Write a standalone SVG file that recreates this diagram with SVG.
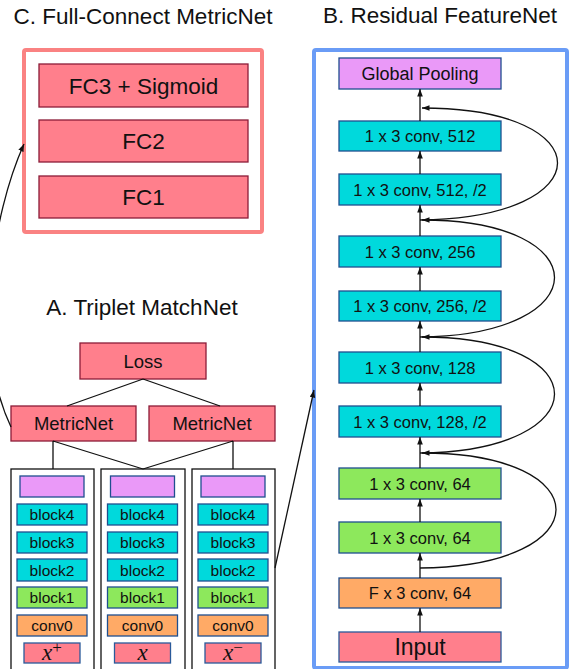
<svg xmlns="http://www.w3.org/2000/svg" width="569" height="669" viewBox="0 0 569 669">
<defs>
<marker id="ah" markerUnits="userSpaceOnUse" markerWidth="8" markerHeight="6" refX="7.5" refY="2.8" orient="auto">
<path d="M0,0 L7.5,2.8 L0,5.6 z" fill="#111"/>
</marker>
</defs>
<style>
text{font-family:"Liberation Sans",Arial,sans-serif;fill:#111;text-anchor:middle}
.title{font-size:22.5px}
.pink{fill:#ff7f8c;stroke:#8c1c38;stroke-width:1.3}
.pinkb{fill:#ff7f8c;stroke:#2a5a9a;stroke-width:1.3}
.cyan{fill:#00d9dc;stroke:#1f4f8f;stroke-width:1.3}
.green{fill:#8de85c;stroke:#1f4f8f;stroke-width:1.3}
.orange{fill:#ffaa66;stroke:#1f4f8f;stroke-width:1.3}
.violet{fill:#ea99f8;stroke:#1f4f8f;stroke-width:1.3}
.col{fill:#fff;stroke:#111;stroke-width:1.3}
.lbl{font-size:16.5px}
.blk{font-size:15.5px}
.big{font-size:22.5px}
.inp{font-size:23px}
.mid{font-size:18.5px}
.gp{font-size:18px}
.math{font-family:"Liberation Serif","Times New Roman",serif;font-style:italic;font-size:23px}
.sup{font-style:normal;font-size:17px}
.ln{stroke:#111;stroke-width:1.3;fill:none}
.ar{stroke:#111;stroke-width:1.3;fill:none;marker-end:url(#ah)}
</style>

<!-- Titles -->
<text class="title" x="143" y="24">C. Full-Connect MetricNet</text>
<text class="title" x="440" y="23">B. Residual FeatureNet</text>
<text class="title" x="142" y="315">A. Triplet MatchNet</text>

<!-- Panel C -->
<g id="panelC">
<rect x="24" y="50" width="238" height="182" rx="2" fill="#fff" stroke="#fa8282" stroke-width="4"/>
</g>
<g id="fc3"><rect class="pink" x="39" y="64" width="209" height="43"/><text class="big" x="143.5" y="93.5">FC3 + Sigmoid</text></g>
<g id="fc2"><rect class="pink" x="39" y="120" width="209" height="42"/><text class="big" x="143.5" y="149">FC2</text></g>
<g id="fc1"><rect class="pink" x="39" y="176" width="209" height="42"/><text class="big" x="143.5" y="205">FC1</text></g>

<!-- Panel B -->
<g id="panelB">
<rect x="314" y="50" width="253" height="618" rx="2" fill="#fff" stroke="#6a9cf6" stroke-width="4"/>
</g>
<g id="gpool"><rect class="violet" x="339" y="58" width="162" height="31"/><text class="gp" x="420" y="80">Global Pooling</text></g>
<g id="c512"><rect class="cyan" x="339" y="121" width="162" height="30"/><text class="lbl" x="420" y="142">1 x 3 conv, 512</text></g>
<g id="c512s"><rect class="cyan" x="339" y="174" width="162" height="31"/><text class="lbl" x="420" y="195.5">1 x 3 conv, 512, /2</text></g>
<g id="c256"><rect class="cyan" x="339" y="236" width="162" height="31"/><text class="lbl" x="420" y="257.5">1 x 3 conv, 256</text></g>
<g id="c256s"><rect class="cyan" x="339" y="291" width="162" height="30"/><text class="lbl" x="420" y="312">1 x 3 conv, 256, /2</text></g>
<g id="c128"><rect class="cyan" x="339" y="352" width="162" height="31"/><text class="lbl" x="420" y="373.5">1 x 3 conv, 128</text></g>
<g id="c128s"><rect class="cyan" x="339" y="406" width="162" height="31"/><text class="lbl" x="420" y="427.5">1 x 3 conv, 128, /2</text></g>
<g id="c64a"><rect class="green" x="339" y="468" width="162" height="31"/><text class="lbl" x="420" y="489.5">1 x 3 conv, 64</text></g>
<g id="c64b"><rect class="green" x="339" y="522" width="162" height="31"/><text class="lbl" x="420" y="543.5">1 x 3 conv, 64</text></g>
<g id="fconv"><rect class="orange" x="339" y="578" width="162" height="30"/><text class="lbl" x="420" y="599">F x 3 conv, 64</text></g>
<g id="input"><rect class="pinkb" x="339" y="632" width="162" height="30"/><text class="inp" x="420" y="655">Input</text></g>

<!-- Panel A -->
<g id="loss"><rect class="pink" x="80" y="343" width="126" height="36"/><text class="mid" x="143" y="367.5">Loss</text></g>
<g id="metricL"><rect class="pink" x="11" y="406" width="125" height="35"/><text class="mid" x="73.5" y="430">MetricNet</text></g>
<g id="metricR"><rect class="pink" x="149" y="406" width="126" height="35"/><text class="mid" x="212" y="430">MetricNet</text></g>

<g id="col1">
<rect class="col" x="11" y="469" width="83" height="210"/>
<rect class="violet" x="20" y="476" width="64" height="21"/>
<rect class="cyan" x="17" y="504" width="70" height="21"/><text class="blk" x="52" y="520">block4</text>
<rect class="cyan" x="17" y="532" width="70" height="21"/><text class="blk" x="52" y="548">block3</text>
<rect class="cyan" x="17" y="559" width="70" height="22"/><text class="blk" x="52" y="575.5">block2</text>
<rect class="green" x="17" y="587" width="70" height="21"/><text class="blk" x="52" y="603">block1</text>
<rect class="orange" x="17" y="615" width="70" height="21"/><text class="blk" x="52" y="631">conv0</text>
<rect class="pinkb" x="24" y="643" width="56" height="20"/><text class="math" x="52" y="660">x<tspan class="sup" dy="-7">+</tspan></text>
</g>
<g id="col2">
<rect class="col" x="101" y="469" width="84" height="210"/>
<rect class="violet" x="110.5" y="476" width="64" height="21"/>
<rect class="cyan" x="107.5" y="504" width="70" height="21"/><text class="blk" x="142.5" y="520">block4</text>
<rect class="cyan" x="107.5" y="532" width="70" height="21"/><text class="blk" x="142.5" y="548">block3</text>
<rect class="cyan" x="107.5" y="559" width="70" height="22"/><text class="blk" x="142.5" y="575.5">block2</text>
<rect class="green" x="107.5" y="587" width="70" height="21"/><text class="blk" x="142.5" y="603">block1</text>
<rect class="orange" x="107.5" y="615" width="70" height="21"/><text class="blk" x="142.5" y="631">conv0</text>
<rect class="pinkb" x="114.5" y="643" width="56" height="20"/><text class="math" x="142.5" y="660">x</text>
</g>
<g id="col3">
<rect class="col" x="192" y="469" width="83" height="210"/>
<rect class="violet" x="201" y="476" width="64" height="21"/>
<rect class="cyan" x="198" y="504" width="70" height="21"/><text class="blk" x="233" y="520">block4</text>
<rect class="cyan" x="198" y="532" width="70" height="21"/><text class="blk" x="233" y="548">block3</text>
<rect class="cyan" x="198" y="559" width="70" height="22"/><text class="blk" x="233" y="575.5">block2</text>
<rect class="green" x="198" y="587" width="70" height="21"/><text class="blk" x="233" y="603">block1</text>
<rect class="orange" x="198" y="615" width="70" height="21"/><text class="blk" x="233" y="631">conv0</text>
<rect class="pinkb" x="205" y="643" width="56" height="20"/><text class="math" x="233" y="660">x<tspan class="sup" dy="-7">−</tspan></text>
</g>

<!-- Connectors -->
<g id="connectors">
<path class="ln" d="M143,379 L67,406 M143,379 L220,406"/>
<path class="ln" d="M53,441 L53,469 M53,441 L143,469 M233,441 L233,469 M233,441 L143,469"/>
<path class="ar" d="M420,632 L420,608"/>
<path class="ar" d="M420,578 L420,553"/>
<path class="ar" d="M420,522 L420,499"/>
<path class="ar" d="M420,468 L420,437"/>
<path class="ar" d="M420,406 L420,383"/>
<path class="ar" d="M420,352 L420,321"/>
<path class="ar" d="M420,291 L420,267"/>
<path class="ar" d="M420,236 L420,205"/>
<path class="ar" d="M420,174 L420,151"/>
<path class="ar" d="M420,121 L420,89"/>
<path class="ar" d="M420,568 C601,566 601,453 422,453"/>
<path class="ar" d="M420,453 C599,451 599,337 422,337"/>
<path class="ar" d="M420,337 C599,335 599,220 422,220"/>
<path class="ar" d="M420,220 C603,218 603,108 422,108"/>
<path class="ar" d="M11,427 C-28,345 -8,215 24,144"/>
<path class="ar" d="M275,568 L314,390"/>
</g>
</svg>
